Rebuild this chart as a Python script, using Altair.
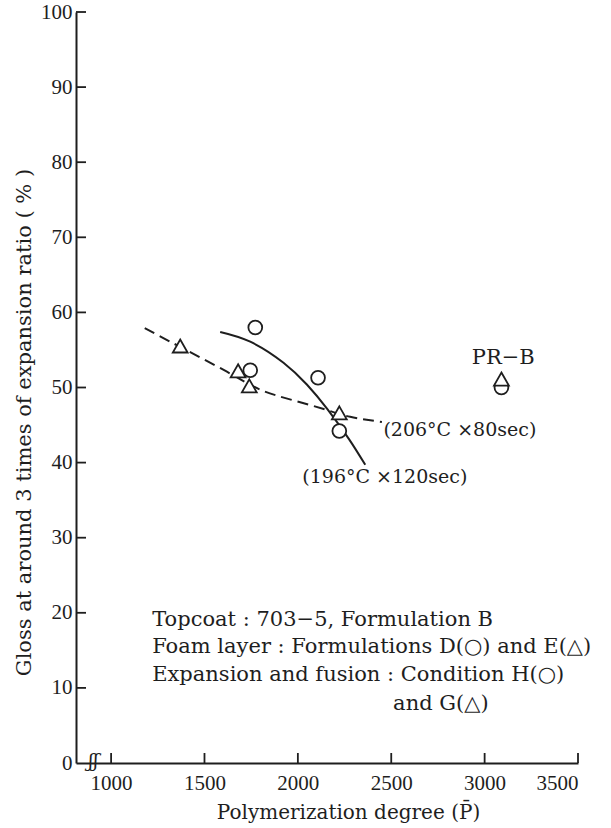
import altair as alt
import pandas as pd

# Polymerization degree vs. gloss (around 3x expansion ratio)

# Formulation D / condition H (circles)
circle_x = [1772, 1745, 2108, 2222, 3090]
circle_y = [58.0, 52.3, 51.3, 44.2, 50.0]

# Formulation E / condition G (triangles)
tri_x = [1370, 1680, 1740, 2222, 3090]
tri_y = [55.5, 52.2, 50.2, 46.6, 51.1]

# Trend curve for 206°C x 80 sec (dashed)
dash_x = [1180, 1370, 1620, 1800, 1975, 2155, 2280, 2450]
dash_y = [57.9, 55.4, 52.1, 49.7, 48.3, 47.0, 46.1, 45.4]

# Trend curve for 196°C x 120 sec (solid)
solid_x = [1584, 1745, 1923, 2048, 2156, 2272, 2361]
solid_y = [57.4, 56.1, 53.3, 50.4, 47.2, 43.2, 39.7]

x_ticks = [1000, 1500, 2000, 2500, 3000, 3500]
y_ticks = [0, 10, 20, 30, 40, 50, 60, 70, 80, 90, 100]

# Annotation texts
left_labels = [
    "(206°C ×80sec)",
    "(196°C ×120sec)",
]
left_label_x = [2458, 2024]
left_label_y = [44.3, 38.1]

note_lines = [
    "Topcoat : 703−5, Formulation B",
    "Foam layer : Formulations D(○) and E(△)",
    "Expansion and fusion : Condition H(○)",
    "and G(△)",
]
note_x = [1220, 1220, 1220, 2510]
note_y = [19.1, 15.4, 11.7, 7.9]

prb_label = ["PR−B"]
prb_x = [3100]
prb_y = [53.9]

INK = "#1e1e1e"
SERIF = "DejaVu Serif"
NUM = "Liberation Serif"
W, H = 502, 751

xs = alt.Scale(domain=[812, 3500], nice=False, zero=False)
ys = alt.Scale(domain=[0, 100], nice=False)

circles = pd.DataFrame({"x": circle_x, "y": circle_y})
tris = pd.DataFrame({"x": tri_x, "y": tri_y})
dashed = pd.DataFrame({"x": dash_x, "y": dash_y})
solid = pd.DataFrame({"x": solid_x, "y": solid_y})
xt = pd.DataFrame({"x": x_ticks})
yt = pd.DataFrame({"y": [v for v in y_ticks if v > 0]})
lab = pd.DataFrame({"x": left_label_x, "y": left_label_y, "t": left_labels})
notes = pd.DataFrame({"x": note_x, "y": note_y, "t": note_lines})
prb = pd.DataFrame({"x": prb_x, "y": prb_y, "t": prb_label})
brk = pd.DataFrame({"x": [905], "y": [0.3], "t": ["ʃʃ"]})

x_axis = alt.Axis(
    title="Polymerization degree (P̄)",
    values=x_ticks,
    format="d",
    labelPadding=9,
    labelFont=NUM,
    labelFontSize=21,
    titleFont=SERIF,
    titleFontSize=20,
    titleX=272,
    titleY=55,
    titleBaseline="alphabetic",
    titleAlign="center",
)
y_axis = alt.Axis(
    title="Gloss at around 3 times of expansion ratio ( % )",
    values=y_ticks,
    labelPadding=4,
    labelFont=NUM,
    labelFontSize=21,
    titleFont=SERIF,
    titleFontSize=21,
    titleAngle=-90,
    titleX=-52,
    titleY=410,
    titleBaseline="middle",
    titleAlign="center",
)
xp = alt.X("x:Q", scale=xs, axis=x_axis)
yp = alt.Y("y:Q", scale=ys, axis=y_axis)

# inward-pointing tick marks
x_tick_marks = alt.Chart(xt).mark_rule(color=INK, strokeWidth=1.8).encode(
    x=xp, y=alt.value(H), y2=alt.value(H - 10)
)
y_tick_marks = alt.Chart(yt).mark_rule(color=INK, strokeWidth=1.8).encode(
    y=yp, x=alt.value(0), x2=alt.value(10)
)

dash_line = alt.Chart(dashed).mark_line(
    color=INK, strokeWidth=2, strokeDash=[11, 6], interpolate="natural"
).encode(x=xp, y=yp)
solid_line = alt.Chart(solid).mark_line(
    color=INK, strokeWidth=2, interpolate="natural"
).encode(x=xp, y=yp)

circle_pts = alt.Chart(circles).mark_point(
    shape="circle", filled=True, fill="white", stroke=INK, strokeWidth=1.8,
    size=190, opacity=1,
).encode(x=xp, y=yp)
tri_pts = alt.Chart(tris).mark_point(
    shape="M0,-0.9L1,0.85L-1,0.85Z", filled=True, fill="white", stroke=INK,
    strokeWidth=1.8, size=220, opacity=1,
).encode(x=xp, y=yp)

cond_text = alt.Chart(lab).mark_text(
    font=SERIF, fontSize=19, color=INK, align="left", baseline="middle"
).encode(x=xp, y=yp, text="t:N")
note_text = alt.Chart(notes).mark_text(
    font=SERIF, fontSize=21, color=INK, align="left", baseline="middle"
).encode(x=xp, y=yp, text="t:N")
prb_text = alt.Chart(prb).mark_text(
    font=SERIF, fontSize=21, color=INK, align="center", baseline="middle"
).encode(x=xp, y=yp, text="t:N")
break_text = alt.Chart(brk).mark_text(
    font=SERIF, fontSize=19, fontStyle="italic", color=INK, align="center",
    baseline="middle",
).encode(x=xp, y=yp, text="t:N")

chart = (
    alt.layer(
        dash_line, solid_line, x_tick_marks, y_tick_marks,
        circle_pts, tri_pts, cond_text, note_text, prb_text, break_text,
    )
    .properties(
        width=W,
        height=H,
        autosize=alt.AutoSizeParams(type="none"),
        padding={"left": 76, "top": 12, "right": 33, "bottom": 65},
        background="white",
    )
    .configure(
        font=SERIF,
        style={
            "guide-label": {"font": NUM, "fontSize": 21, "fill": INK},
            "guide-title": {"font": SERIF, "fontWeight": "normal", "fill": INK},
        },
    )
    .configure_axis(
        labelFont=NUM,
        labelFontSize=21,
        labelColor=INK,
        titleFont=SERIF,
        titleFontWeight="normal",
        titleColor=INK,
        domainColor=INK,
        domainWidth=2,
        ticks=False,
        tickSize=0,
        grid=False,
    )
    .configure_view(stroke=None)
)

chart.save("out.html", embed_options={"renderer": "svg", "actions": False})
